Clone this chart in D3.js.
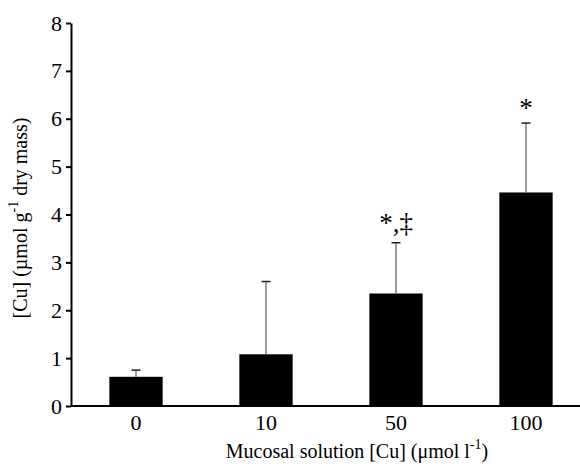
<!DOCTYPE html>
<html>
<head>
<meta charset="utf-8">
<script src="https://cdn.jsdelivr.net/npm/d3@7"></script>
<style>
  body { margin: 0; background: #fff; }
</style>
</head>
<body>
<div id="chart"></div>
<script>
// copper content per mucosal concentration
const categories = ['0', '10', '50', '100'];
const means = [0.61, 1.08, 2.35, 4.46];
const errors = [0.14, 1.52, 1.06, 1.45];
const marks = ['', '', '*,\u2021', '*'];
const yTicks = [0, 1, 2, 3, 4, 5, 6, 7, 8];

const serif = 'Liberation Serif';
const width = 580, height = 466;
const margin = { top: 23, right: -11, bottom: 60, left: 71 };

const svg = d3.select('#chart')
  .append('svg')
  .attr('width', width)
  .attr('height', height)
  .attr('font-family', serif);

const x = d3.scaleBand()
  .domain(categories)
  .range([margin.left, width - margin.right])
  .paddingInner(0.59)
  .paddingOuter(0.295);

const y = d3.scaleLinear()
  .domain([0, 8])
  .range([height - margin.bottom, margin.top]);

// bars
svg.selectAll('rect.bar')
  .data(means)
  .enter()
  .append('rect')
  .attr('class', 'bar')
  .attr('x', (d, i) => x(categories[i]))
  .attr('y', d => y(d))
  .attr('width', x.bandwidth())
  .attr('height', d => y(0) - y(d))
  .attr('fill', '#000');

// error bars (upper only)
const cx = i => x(categories[i]) + x.bandwidth() / 2;
svg.selectAll('line.err')
  .data(means)
  .enter()
  .append('line')
  .attr('class', 'err')
  .attr('x1', (d, i) => cx(i))
  .attr('x2', (d, i) => cx(i))
  .attr('y1', d => y(d))
  .attr('y2', (d, i) => y(d + errors[i]))
  .attr('stroke', '#666')
  .attr('stroke-width', 1.3);

svg.selectAll('line.cap')
  .data(means)
  .enter()
  .append('line')
  .attr('class', 'cap')
  .attr('x1', (d, i) => cx(i) - 4.5)
  .attr('x2', (d, i) => cx(i) + 4.5)
  .attr('y1', (d, i) => y(d + errors[i]))
  .attr('y2', (d, i) => y(d + errors[i]))
  .attr('stroke', '#222')
  .attr('stroke-width', 1.5);

// significance marks (the double dagger needs a bit more room)
svg.selectAll('text.mark')
  .data(means)
  .enter()
  .append('text')
  .attr('class', 'mark')
  .attr('x', (d, i) => cx(i))
  .attr('y', (d, i) => y(d + errors[i]) - (marks[i].length > 1 ? 11 : 6))
  .attr('text-anchor', 'middle')
  .attr('font-size', 27)
  .attr('font-family', serif)
  .attr('fill', '#000')
  .text((d, i) => marks[i]);

// y axis
const yAxis = svg.append('g')
  .attr('transform', `translate(${margin.left},0)`)
  .call(d3.axisLeft(y).tickValues(yTicks).tickSize(5).tickSizeOuter(0).tickPadding(4))
  .attr('font-family', serif)
  .attr('font-size', 22);
yAxis.select('.domain').attr('stroke', '#000').attr('stroke-width', 2);
yAxis.selectAll('.tick line').attr('stroke', '#000').attr('stroke-width', 2);
yAxis.selectAll('.tick text').attr('font-family', serif).attr('font-size', 22).attr('fill', '#000');

// x axis
const xAxis = svg.append('g')
  .attr('transform', `translate(0,${y(0)})`)
  .call(d3.axisBottom(x).tickSize(0).tickSizeOuter(0).tickPadding(8))
  .attr('font-family', serif)
  .attr('font-size', 22);
xAxis.select('.domain').attr('stroke', '#000').attr('stroke-width', 2)
  .attr('d', `M${margin.left},0H${width}`);
xAxis.selectAll('.tick text').attr('font-family', serif).attr('font-size', 22).attr('fill', '#000');

// axis titles
const xt = svg.append('text')
  .attr('x', 357)
  .attr('y', 458)
  .attr('text-anchor', 'middle')
  .attr('font-family', serif)
  .attr('font-size', 20);
xt.append('tspan').text('Mucosal solution [Cu] (\u03bcmol l');
xt.append('tspan').attr('dy', -9).attr('font-size', 14).text('-1');
xt.append('tspan').attr('dy', 9).text(')');

const yt = svg.append('text')
  .attr('transform', 'translate(27,218) rotate(-90)')
  .attr('text-anchor', 'middle')
  .attr('font-family', serif)
  .attr('font-size', 20);
yt.append('tspan').text('[Cu] (\u00b5mol g');
yt.append('tspan').attr('dy', -9).attr('font-size', 14).text('-1');
yt.append('tspan').attr('dy', 9).text(' dry mass)');
</script>
</body>
</html>
